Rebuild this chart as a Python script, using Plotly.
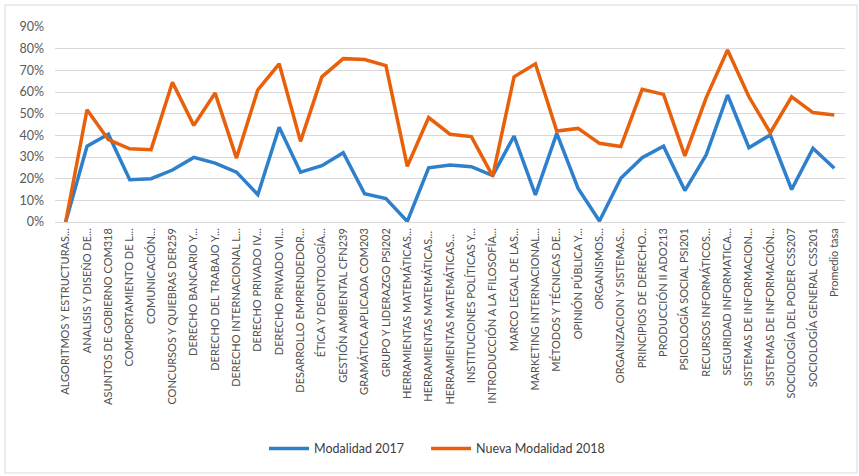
import plotly.graph_objects as go

categorias = [
    "ALGORITMOS Y ESTRUCTURAS...", "ANALISIS Y DISEÑO DE...", "ASUNTOS DE GOBIERNO COM318",
    "COMPORTAMIENTO DE L...", "COMUNICACIÓN...", "CONCURSOS Y QUIEBRAS DER259",
    "DERECHO BANCARIO Y...", "DERECHO DEL TRABAJO Y...", "DERECHO INTERNACIONAL L...",
    "DERECHO PRIVADO IV...", "DERECHO PRIVADO VII...", "DESARROLLO EMPRENDEDOR...",
    "ÉTICA Y DEONTOLOGÍA...", "GESTIÓN AMBIENTAL CFN239", "GRAMÁTICA APLICADA COM203",
    "GRUPO Y LIDERAZGO PSI202", "HERRAMIENTAS MATEMÁTICAS...", "HERRAMIENTAS MATEMÁTICAS... ",
    "HERRAMIENTAS MATEMÁTICAS...  ", "INSTITUCIONES POLÍTICAS Y...", "INTRODUCCIÓN A LA FILOSOFÍA...",
    "MARCO LEGAL DE LAS...", "MARKETING INTERNACIONAL...", "MÉTODOS Y TÉCNICAS DE...",
    "OPINIÓN PÚBLICA Y...", "ORGANISMOS...", "ORGANIZACION Y SISTEMAS...",
    "PRINCIPIOS DE DERECHO...", "PRODUCCIÓN II ADO213", "PSICOLOGÍA SOCIAL PSI201",
    "RECURSOS INFORMÁTICOS...", "SEGURIDAD INFORMATICA...", "SISTEMAS DE INFORMACION...",
    "SISTEMAS DE INFORMACIÓN...", "SOCIOLOGÍA DEL PODER CSS207", "SOCIOLOGÍA GENERAL CSS201",
    "Promedio tasa",
]

modalidad_2017 = [
    0.00, 0.35, 0.405, 0.195, 0.20, 0.24, 0.298, 0.272, 0.23, 0.126, 0.437, 0.23,
    0.26, 0.32, 0.13, 0.108, 0.003, 0.25, 0.263, 0.255, 0.214, 0.397, 0.125, 0.409,
    0.155, 0.005, 0.202, 0.297, 0.35, 0.145, 0.31, 0.586, 0.343, 0.402, 0.15, 0.34, 0.248,
]

nueva_modalidad_2018 = [
    0.00, 0.518, 0.38, 0.338, 0.334, 0.645, 0.446, 0.595, 0.295, 0.61, 0.73, 0.372,
    0.67, 0.754, 0.75, 0.722, 0.257, 0.482, 0.405, 0.394, 0.212, 0.67, 0.73, 0.42,
    0.432, 0.363, 0.348, 0.612, 0.589, 0.305, 0.574, 0.794, 0.578, 0.412, 0.578, 0.505, 0.494,
]

fig = go.Figure()
fig.add_trace(go.Scatter(x=categorias, y=modalidad_2017, mode="lines", name="Modalidad 2017",
                         line=dict(color="#2E7FCC", width=3.5), legend="legend"))
fig.add_trace(go.Scatter(x=categorias, y=nueva_modalidad_2018, mode="lines", name="Nueva Modalidad 2018",
                         line=dict(color="#E8600A", width=3.5), legend="legend2"))

legend_style = dict(orientation="h", xanchor="left", y=-1.164, yanchor="middle",
                    font=dict(size=12.5, color="#404040"), itemwidth=40)

fig.update_layout(
    width=859, height=476,
    margin=dict(l=55, r=14, t=27, b=254),
    paper_bgcolor="white", plot_bgcolor="white",
    font=dict(family="Lato, Liberation Sans, sans-serif", color="#595959"),
    showlegend=True,
    legend=dict(x=0.2646, **legend_style),
    legend2=dict(x=0.4697, **legend_style),
    shapes=[dict(type="rect", xref="paper", yref="paper",
                 x0=-0.0633, x1=1.0152, y0=-1.287, y1=1.1128,
                 line=dict(color="#D9D9D9", width=1))],
)

fig.update_xaxes(type="category", range=[-0.5, 36.5], tickangle=-90, automargin=False,
                 tickfont=dict(size=11, color="#505050"), showgrid=False,
                 showline=False, ticks="", ticklabelstandoff=3)
fig.update_yaxes(range=[0, 0.9], dtick=0.1, tickformat=".0%", automargin=False,
                 tickfont=dict(size=12.5, color="#595959"), gridcolor="#D9D9D9",
                 zeroline=True, zerolinecolor="#D9D9D9", zerolinewidth=1,
                 showline=False, ticks="", ticklabelstandoff=10)

fig.write_html("out.html", config={"displayModeBar": False},
               post_script="document.body.style.margin='0';")
